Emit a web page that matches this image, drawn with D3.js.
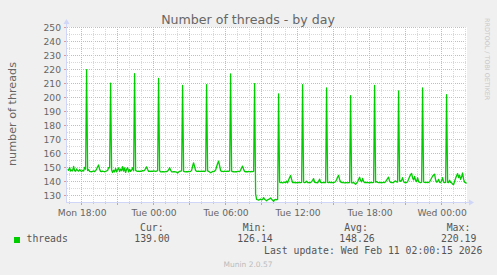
<!DOCTYPE html>
<html>
<head>
<meta charset="utf-8">
<script src="https://cdn.jsdelivr.net/npm/d3@7"></script>
<style>
html, body { margin: 0; padding: 0; background: #f0f0f0; }
svg { display: block; }
</style>
</head>
<body>
<div id="chart"></div>
<script>
const svgWidth = 497
const svgHeight = 275

const title = "Number of threads - by day"
const yLabel = "number of threads"
const seriesName = "threads"
const seriesColor = "#00cc00"

// one sample every 5 minutes, starting Mon 9 Feb 2026 16:50
const startTime = "2026-02-09 16:50"
const stepMinutes = 5
const threads = [
	149.0, 148.3, 150.4, 147.8, 148.6, 147.9, 151.2, 148.1, 147.6, 149.3, 148.2, 147.8, 148.9, 148.0, 147.5, 148.3, 147.8, 150.4, 149.1, 220.19, 148.2, 148.8, 147.6, 147.4,
	147.3, 147.5, 147.9, 147.4, 148.0, 149.2, 150.8, 152.1, 149.0, 147.6, 147.4, 147.8, 147.5, 147.3, 147.6, 147.9, 148.2, 150.3, 150.1, 210.6, 148.5, 146.8, 148.4, 147.2,
	149.6, 147.3, 148.9, 150.1, 147.5, 149.2, 148.0, 151.0, 147.7, 150.0, 146.8, 149.1, 150.3, 147.2, 149.0, 147.6, 148.5, 150.2, 148.0, 217.4, 148.3, 147.8, 147.6, 147.7,
	147.5, 147.8, 147.6, 148.1, 147.9, 148.4, 149.6, 150.8, 148.9, 147.6, 147.7, 147.5, 147.8, 147.6, 147.9, 147.7, 147.5, 147.8, 148.1, 213.9, 148.0, 147.3, 147.2, 147.4,
	147.3, 147.2, 147.5, 147.4, 147.8, 148.6, 150.2, 148.4, 147.3, 147.2, 147.4, 147.3, 147.2, 147.0, 146.4, 147.1, 147.6, 147.8, 148.0, 208.9, 147.6, 147.4, 147.2, 147.3,
	147.3, 147.5, 147.4, 147.6, 148.3, 151.2, 153.7, 151.0, 148.2, 147.6, 147.5, 147.7, 147.6, 147.5, 147.7, 147.6, 147.8, 147.5, 147.9, 209.6, 147.9, 147.6, 147.1, 146.6,
	147.0, 147.5, 147.4, 147.8, 148.5, 150.9, 153.2, 154.9, 151.6, 148.2, 147.5, 147.6, 147.4, 147.7, 147.6, 147.5, 147.7, 147.6, 147.9, 217.2, 147.8, 147.4, 147.3, 147.2,
	147.4, 147.3, 147.5, 147.6, 147.4, 148.3, 150.1, 151.3, 149.0, 147.5, 147.3, 147.4, 147.3, 147.5, 147.4, 147.3, 147.5, 147.4, 147.6, 210.3, 131.5, 127.6, 127.3, 127.0,
	127.4, 127.8, 127.2, 127.5, 128.8, 127.6, 127.1, 126.6, 127.3, 127.5, 127.9, 128.6, 127.7, 127.0, 126.14, 127.2, 127.6, 127.3, 127.5, 202.9, 139.8, 139.5, 139.7, 139.4,
	139.6, 139.9, 139.5, 140.6, 139.4, 141.5, 143.2, 144.6, 141.9, 139.6, 139.5, 139.7, 139.4, 139.6, 139.5, 139.7, 139.5, 139.6, 139.8, 209.6, 139.8, 139.5, 139.7, 140.6,
	139.6, 139.5, 139.7, 139.5, 140.3, 141.2, 142.4, 139.8, 139.5, 139.6, 139.4, 140.5, 142.0, 139.7, 139.5, 139.6, 139.5, 139.7, 139.6, 207.2, 139.7, 139.5, 139.9, 139.6,
	139.8, 139.6, 139.5, 139.8, 140.4, 141.6, 143.5, 144.7, 141.8, 140.0, 139.6, 139.7, 139.5, 139.4, 139.6, 139.5, 139.4, 139.6, 139.5, 201.7, 139.4, 139.3, 139.6, 139.1,
	138.3, 139.2, 140.1, 141.8, 143.4, 141.0, 140.2, 142.6, 140.3, 139.6, 139.5, 139.7, 139.5, 139.6, 139.4, 139.7, 139.5, 139.6, 139.8, 208.9, 139.9, 140.2, 139.7, 139.6,
	139.5, 139.7, 139.6, 139.5, 139.8, 139.6, 140.2, 141.3, 142.5, 143.4, 140.6, 139.7, 139.5, 139.6, 139.8, 140.4, 140.8, 140.1, 139.9, 205.1, 140.8, 140.5, 141.2, 143.1,
	140.2, 139.6, 139.8, 139.5, 140.3, 141.9, 143.8, 145.2, 146.1, 142.9, 141.5, 144.0, 141.2, 140.3, 143.0, 140.1, 139.8, 139.6, 139.9, 207.2, 140.0, 139.7, 139.6, 139.8,
	139.5, 139.7, 140.2, 141.4, 142.8, 144.1, 145.0, 145.6, 141.5, 139.9, 140.3, 141.9, 139.8, 139.6, 140.8, 143.1, 139.9, 139.5, 139.7, 202.4, 139.8, 139.6, 141.2, 139.7,
	139.4, 138.4, 138.2, 140.5, 142.6, 144.5, 146.0, 143.2, 144.8, 141.9, 143.5, 146.4, 142.0, 139.8, 139.5, 139.0
]

const yTicks = [130, 140, 150, 160, 170, 180, 190, 200, 210, 220, 230, 240, 250]
const xLabelTimes = ["2026-02-09 18:00", "2026-02-10 00:00", "2026-02-10 06:00", "2026-02-10 12:00", "2026-02-10 18:00", "2026-02-11 00:00"]
const xLabels = ["Mon 18:00", "Tue 00:00", "Tue 06:00", "Tue 12:00", "Tue 18:00", "Wed 00:00"]

const legendHeads = ["Cur:", "Min:", "Avg:", "Max:"]
const legendValues = ["139.00", "126.14", "148.26", "220.19"]
const lastUpdate = "Last update: Wed Feb 11 02:00:15 2026"
const version = "Munin 2.0.57"
const watermark = "RRDTOOL / TOBI OETIKER"

const parse = d3.timeParse("%Y-%m-%d %H:%M")
const t0 = parse(startTime)
const data = threads.map((v, i) => ({ t: d3.timeMinute.offset(t0, i * stepMinutes), v: v }))

const plot = { left: 67, right: 467, top: 27, bottom: 202 }
const gridMinor = "#d8d8d8"
const gridMajor = "#e4aeae"
const axisColor = "#cfd6f8"
const fontColor = "#666"

const x = d3.scaleTime()
	.domain([parse("2026-02-09 16:47"), parse("2026-02-11 02:07")])
	.range([plot.left, plot.right])
const y = d3.scaleLinear()
	.domain([125.7, 250.7])
	.range([plot.bottom, plot.top])

const px = v => Math.floor(v) + 0.5

let svg = d3.select("#chart")
	.append("svg")
	.attr("width", svgWidth)
	.attr("height", svgHeight)
	.style("background", "#f0f0f0")

svg.append("rect")
	.attr("x", plot.left).attr("y", plot.top)
	.attr("width", plot.right - plot.left).attr("height", plot.bottom - plot.top)
	.attr("fill", "#fff")

// horizontal grid: minor every 5, major every 10
const yMinor = d3.range(135, 250, 10)
let grid = svg.append("g").attr("shape-rendering", "crispEdges")
grid.selectAll("line.hmin").data(yMinor).enter().append("line")
	.attr("x1", plot.left).attr("x2", plot.right)
	.attr("y1", d => px(y(d))).attr("y2", d => px(y(d)))
	.attr("stroke", gridMinor).attr("stroke-dasharray", "1,1")
grid.selectAll("line.hmaj").data(yTicks).enter().append("line")
	.attr("x1", plot.left).attr("x2", plot.right)
	.attr("y1", d => px(y(d))).attr("y2", d => px(y(d)))
	.attr("stroke", gridMajor).attr("stroke-dasharray", "1,1")

// vertical grid: minor every hour, major every 3 hours
const hours = d3.timeHour.range(x.domain()[0], x.domain()[1])
const minorHours = hours.filter(d => d.getHours() % 3 !== 0)
const majorHours = hours.filter(d => d.getHours() % 3 === 0)
grid.selectAll("line.vmin").data(minorHours).enter().append("line")
	.attr("x1", d => px(x(d))).attr("x2", d => px(x(d)))
	.attr("y1", plot.top).attr("y2", plot.bottom)
	.attr("stroke", gridMinor).attr("stroke-dasharray", "1,1")
grid.selectAll("line.vmaj").data(majorHours).enter().append("line")
	.attr("x1", d => px(x(d))).attr("x2", d => px(x(d)))
	.attr("y1", plot.top).attr("y2", plot.bottom)
	.attr("stroke", gridMajor).attr("stroke-dasharray", "1,1")

// small ticks outside the plot
grid.selectAll("line.tmin").data(minorHours).enter().append("line")
	.attr("x1", d => px(x(d))).attr("x2", d => px(x(d)))
	.attr("y1", plot.bottom).attr("y2", plot.bottom + 2)
	.attr("stroke", "#c8c8c8")
grid.selectAll("line.tmaj").data(majorHours).enter().append("line")
	.attr("x1", d => px(x(d))).attr("x2", d => px(x(d)))
	.attr("y1", plot.bottom).attr("y2", plot.bottom + 3)
	.attr("stroke", "#e09a9a")
grid.selectAll("line.ty").data(yTicks).enter().append("line")
	.attr("x1", plot.left - 3).attr("x2", plot.left)
	.attr("y1", d => px(y(d))).attr("y2", d => px(y(d)))
	.attr("stroke", "#e09a9a")

// data line
const line = d3.line()
	.x(d => x(d.t))
	.y(d => y(d.v))
svg.append("path")
	.datum(data)
	.attr("fill", "none")
	.attr("stroke", seriesColor)
	.attr("stroke-width", 1.3)
	.attr("stroke-linejoin", "round")
	.attr("d", line)

// axes with arrows
svg.append("line")
	.attr("x1", plot.left - 1).attr("x2", plot.right + 3)
	.attr("y1", plot.bottom + 0.5).attr("y2", plot.bottom + 0.5)
	.attr("stroke", axisColor)
svg.append("line")
	.attr("x1", plot.left - 0.5).attr("x2", plot.left - 0.5)
	.attr("y1", plot.bottom + 1).attr("y2", plot.top - 4)
	.attr("stroke", axisColor)
svg.append("path")
	.attr("d", `M${plot.right + 2},${plot.bottom - 2.5}L${plot.right + 7},${plot.bottom + 0.5}L${plot.right + 2},${plot.bottom + 3.5}Z`)
	.attr("fill", axisColor)
svg.append("path")
	.attr("d", `M${plot.left - 3.5},${plot.top - 3}L${plot.left - 0.5},${plot.top - 8}L${plot.left + 2.5},${plot.top - 3}Z`)
	.attr("fill", axisColor)

// labels
const sans = "'DejaVu Sans', sans-serif"
const mono = "'DejaVu Sans Mono', monospace"

svg.append("text")
	.attr("x", 248).attr("y", 23.5)
	.attr("text-anchor", "middle")
	.attr("font-family", sans).attr("font-size", 12.6)
	.attr("fill", fontColor)
	.text(title)

svg.append("text")
	.attr("transform", "translate(15.5,114) rotate(-90)")
	.attr("text-anchor", "middle")
	.attr("font-family", sans).attr("font-size", 11.2)
	.attr("fill", fontColor)
	.text(yLabel)

svg.append("g").selectAll("text").data(yTicks).enter().append("text")
	.attr("x", 61).attr("y", d => y(d) + 3.4)
	.attr("text-anchor", "end")
	.attr("font-family", sans).attr("font-size", 9.2)
	.attr("fill", fontColor)
	.text(d => d)

svg.append("g").selectAll("text").data(xLabels).enter().append("text")
	.attr("x", (d, i) => x(parse(xLabelTimes[i])) + 0.5)
	.attr("y", 215.5)
	.attr("text-anchor", "middle")
	.attr("font-family", sans).attr("font-size", 9.2)
	.attr("fill", fontColor)
	.text(d => d)

svg.append("text")
	.attr("transform", "translate(485,18) rotate(90)")
	.attr("font-family", sans).attr("font-size", 6.4)
	.attr("fill", "#c8c8c8")
	.text(watermark)

// legend
const legendX = [140, 242.7, 344.3, 446.7]
const valueX = [134.3, 237.3, 339.3, 441]
svg.append("rect")
	.attr("x", 14).attr("y", 237).attr("width", 6).attr("height", 6)
	.attr("fill", seriesColor)
svg.append("text")
	.attr("x", 26.5).attr("y", 242.3)
	.attr("font-family", mono).attr("font-size", 9.8)
	.attr("fill", "#555")
	.text(seriesName)
svg.append("g").selectAll("text").data(legendHeads).enter().append("text")
	.attr("x", (d, i) => legendX[i]).attr("y", 230.7)
	.attr("font-family", mono).attr("font-size", 9.8)
	.attr("fill", "#555")
	.text(d => d)
svg.append("g").selectAll("text").data(legendValues).enter().append("text")
	.attr("x", (d, i) => valueX[i]).attr("y", 242.3)
	.attr("font-family", mono).attr("font-size", 9.8)
	.attr("fill", "#555")
	.text(d => d)
svg.append("text")
	.attr("x", 482.3).attr("y", 254.3)
	.attr("text-anchor", "end")
	.attr("font-family", mono).attr("font-size", 9.8)
	.attr("fill", "#555")
	.text(lastUpdate)
svg.append("text")
	.attr("x", 248).attr("y", 266.5)
	.attr("text-anchor", "middle")
	.attr("font-family", sans).attr("font-size", 7.5)
	.attr("fill", "#bbb")
	.text(version)
</script>
</body>
</html>
